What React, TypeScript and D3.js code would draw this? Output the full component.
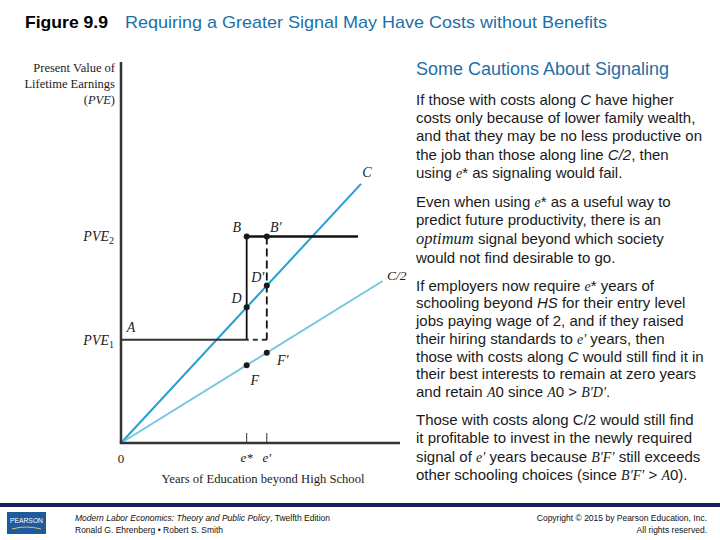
import React from 'react';
import * as d3 from 'd3';

const W = 720;
const H = 540;

// Axes domains (years beyond HS, PVE units)
const xMax = 11.1;
const yMax = 3.69;

// Education signals
const eStar = 5;
const ePrime = 5.8;
const educationTicks = [
  { key: '0', x: 0 },
  { key: 'e*', x: eStar },
  { key: "e'", x: ePrime },
];

// PVE levels
const pve1 = 1;
const pve2 = 2;
const pveLevels = [
  { sub: '1', v: pve1 },
  { sub: '2', v: pve2 },
];

// Cost lines (from origin)
const costC: [number, number][] = [[0, 0], [9.55, 2.51]];
const costHalf: [number, number][] = [[0, 0], [10.41, 1.57]];
const pve2End = 9.43;

// Text content
const titleBold = 'Figure 9.9';
const titleText = 'Requiring a Greater Signal May Have Costs without Benefits';
const subheading = 'Some Cautions About Signaling';
const para1 = [
  'If those with costs along [C] have higher',
  'costs only because of lower family wealth,',
  'and that they may be no less productive on',
  'the job than those along line [C/2], then',
  'using {e}* as signaling would fail.',
];
const para2 = [
  'Even when using {e}* as a useful way to',
  'predict future productivity, there is an',
  '{optimum} signal beyond which society',
  'would not find desirable to go.',
];
const para3 = [
  'If employers now require {e}* years of',
  'schooling beyond [HS] for their entry level',
  'jobs paying wage of 2, and if they raised',
  "their hiring standards to {e′} years, then",
  'those with costs along [C] would still find it in',
  'their best interests to remain at zero years',
  "and retain {A}0 since {A}0 > {B′D′}.",
];
const para4 = [
  'Those with costs along C/2 would still find',
  'it profitable to invest in the newly required',
  "signal of {e′} years because {B′F′} still exceeds",
  "other schooling choices (since {B′F′} > {A}0).",
];
const footerLeft1a = 'Modern Labor Economics: Theory and Public Policy';
const footerLeft1b = ', Twelfth Edition';
const footerLeft2 = 'Ronald G. Ehrenberg • Robert S. Smith';
const footerRight1 = 'Copyright © 2015 by Pearson Education, Inc.';
const footerRight2 = 'All rights reserved.';

const SANS = '"Liberation Sans", Arial, sans-serif';
const SERIF = '"Liberation Serif", "Times New Roman", serif';
const BLUE_TITLE = '#1d6fa8';
const C_COLOR = '#23a0d2';
const C2_COLOR = '#74c6de';
const AXIS = '#333';

const x = d3.scaleLinear().domain([0, xMax]).range([121, 400]);
const y = d3.scaleLinear().domain([0, yMax]).range([443, 62]);
const lineGen = d3.line<[number, number]>().x((d) => x(d[0])).y((d) => y(d[1]));
const onLine = (l: [number, number][], xv: number) => (l[1][1] / l[1][0]) * xv;

function RichLine({ text, xPos, yPos, size }: { text: string; xPos: number; yPos: number; size: number }) {
  const parts = text.split(/(\[[^\]]*\]|\{[^}]*\})/).filter((p) => p.length > 0);
  return (
    <text x={xPos} y={yPos} fontFamily={SANS} fontSize={size} fill="#1a1a1a" style={{ whiteSpace: 'pre' }}>
      {parts.map((p, i) => {
        if (p.startsWith('[')) {
          return (
            <tspan key={i} fontStyle="italic">
              {p.slice(1, -1)}
            </tspan>
          );
        }
        if (p.startsWith('{')) {
          const inner = p.slice(1, -1);
          const big = inner === 'optimum';
          return (
            <tspan key={i} fontFamily={SERIF} fontStyle="italic" fontSize={big ? size + 1.5 : size - 1}>
              {inner}
            </tspan>
          );
        }
        return <tspan key={i}>{p}</tspan>;
      })}
    </text>
  );
}

function Paragraph({ lines, y0, lh }: { lines: string[]; y0: number; lh: number }) {
  return (
    <g>
      {lines.map((l, i) => (
        <RichLine key={i} text={l} xPos={416} yPos={y0 + i * lh} size={15} />
      ))}
    </g>
  );
}

export default function App() {
  const dStar = onLine(costC, eStar);
  const dPrime = onLine(costC, ePrime);
  const fStar = onLine(costHalf, eStar);
  const fPrime = onLine(costHalf, ePrime);

  const dots: { key: string; xv: number; yv: number; dx: number; dy: number }[] = [
    { key: 'B', xv: eStar, yv: pve2, dx: -10, dy: -4 },
    { key: 'B′', xv: ePrime, yv: pve2, dx: 9, dy: -4 },
    { key: 'D', xv: eStar, yv: dStar, dx: -10, dy: -4 },
    { key: 'D′', xv: ePrime, yv: dPrime, dx: -9, dy: -4 },
    { key: 'F', xv: eStar, yv: fStar, dx: 8, dy: 20 },
    { key: 'F′', xv: ePrime, yv: fPrime, dx: 16, dy: 12 },
  ];

  const labelStyle = { fontFamily: SERIF, fontStyle: 'italic' as const, fontSize: 14, fill: '#222' };

  return (
    <svg width={W} height={H} style={{ position: 'absolute', left: 0, top: 0, background: '#fff' }}>
      <rect x={0} y={0} width={W} height={H} fill="#fff" />
      {/* Title */}
      <text x={25} y={28} fontFamily={SANS} fontWeight="bold" fontSize={17} fill="#000" textLength={83} lengthAdjust="spacingAndGlyphs">
        {titleBold}
      </text>
      <text x={125} y={28} fontFamily={SANS} fontSize={17} fill={BLUE_TITLE} textLength={482} lengthAdjust="spacingAndGlyphs">
        {titleText}
      </text>

      {/* Y-axis title */}
      <g fontFamily={SERIF} fontSize={12.5} fill="#222" textAnchor="end">
        <text x={115} y={72}>Present Value of</text>
        <text x={115} y={88}>Lifetime Earnings</text>
        <text x={115} y={104}>
          (<tspan fontStyle="italic">PVE</tspan>)
        </text>
      </g>

      {/* Cost lines */}
      <path d={lineGen(costC) || ''} stroke={C_COLOR} strokeWidth={2} fill="none" />
      <path d={lineGen(costHalf) || ''} stroke={C2_COLOR} strokeWidth={1.8} fill="none" />

      {/* PVE1 line (A) */}
      <line x1={x(0)} x2={x(eStar)} y1={y(pve1)} y2={y(pve1)} stroke={AXIS} strokeWidth={2} />
      <line x1={x(ePrime)} x2={x(eStar)} y1={y(pve1)} y2={y(pve1)} stroke={AXIS} strokeWidth={2} strokeDasharray="5,4" />
      {/* PVE2 line */}
      <line x1={x(eStar)} x2={x(pve2End)} y1={y(pve2)} y2={y(pve2)} stroke="#111" strokeWidth={2.5} />
      {/* verticals */}
      <line x1={x(eStar)} x2={x(eStar)} y1={y(pve1)} y2={y(pve2)} stroke="#111" strokeWidth={1.8} />
      <line x1={x(ePrime)} x2={x(ePrime)} y1={y(pve2)} y2={y(pve1)} stroke="#111" strokeWidth={1.8} strokeDasharray="8,4" />

      {/* Axes */}
      <line x1={x(0)} x2={x(0)} y1={y(yMax)} y2={y(0)} stroke={AXIS} strokeWidth={2.5} />
      <line x1={x(0) - 1.25} x2={x(xMax)} y1={y(0)} y2={y(0)} stroke={AXIS} strokeWidth={2.5} />
      {educationTicks
        .filter((t) => t.x > 0)
        .map((t) => (
          <line key={t.key} x1={x(t.x)} x2={x(t.x)} y1={y(0) - 10} y2={y(0)} stroke={AXIS} strokeWidth={1} />
        ))}
      <text x={x(0)} y={463} textAnchor="middle" fontFamily={SERIF} fontSize={13} fill="#222">
        0
      </text>
      <text x={x(eStar)} y={462} textAnchor="middle" {...labelStyle} fontSize={13}>
        e*
      </text>
      <text x={x(ePrime)} y={462} textAnchor="middle" {...labelStyle} fontSize={13}>
        e′
      </text>
      <text x={263} y={483} textAnchor="middle" fontFamily={SERIF} fontSize={13} fill="#222" textLength={203} lengthAdjust="spacingAndGlyphs">
        Years of Education beyond High School
      </text>

      {/* PVE labels */}
      {pveLevels.map((p) => (
        <text key={p.sub} x={114} y={y(p.v) + 5} textAnchor="end" {...labelStyle}>
          PVE<tspan fontSize={10} fontStyle="normal" dy={3}>{p.sub}</tspan>
        </text>
      ))}
      <text x={x(0) + 10} y={y(pve1) - 8} textAnchor="middle" {...labelStyle}>
        A
      </text>

      {/* Line end labels */}
      <text x={x(costC[1][0]) + 6} y={y(costC[1][1]) - 7} textAnchor="middle" {...labelStyle}>
        C
      </text>
      <text x={x(costHalf[1][0]) + 14} y={y(costHalf[1][1]) - 1} textAnchor="middle" {...labelStyle} fontSize={13.5}>
        C/2
      </text>

      {/* Dots and labels */}
      {dots.map((d) => (
        <g key={d.key}>
          <circle cx={x(d.xv)} cy={y(d.yv)} r={3} fill="#1a1a1a" />
          <text x={x(d.xv) + d.dx} y={y(d.yv) + d.dy} textAnchor="middle" {...labelStyle}>
            {d.key}
          </text>
        </g>
      ))}

      {/* Right text panel */}
      <text x={416} y={75} fontFamily={SANS} fontSize={17.5} fill={BLUE_TITLE} textLength={253} lengthAdjust="spacingAndGlyphs">
        {subheading}
      </text>
      <Paragraph lines={para1} y0={105} lh={18.2} />
      <Paragraph lines={para2} y0={206.5} lh={18.8} />
      <Paragraph lines={para3} y0={290.7} lh={17.7} />
      <Paragraph lines={para4} y0={425} lh={18.3} />

      {/* Footer */}
      <rect x={0} y={503} width={W} height={4} fill="#1b1d5e" />
      <rect x={7} y={512} width={39} height={22} fill="#1f5a9c" />
      <text x={26.5} y={523} textAnchor="middle" fontFamily={SANS} fontSize={8} fill="#fff" textLength={33} lengthAdjust="spacingAndGlyphs">
        PEARSON
      </text>
      <path d="M12,529 Q26,525 41,529" stroke="#e0c070" strokeWidth={1} fill="none" />
      <text x={75} y={521} fontFamily={SANS} fontSize={8.5} fill="#111">
        <tspan fontStyle="italic">{footerLeft1a}</tspan>
        <tspan>{footerLeft1b}</tspan>
      </text>
      <text x={75} y={533} fontFamily={SANS} fontSize={8.5} fill="#111">
        {footerLeft2}
      </text>
      <text x={707} y={521} textAnchor="end" fontFamily={SANS} fontSize={8.5} fill="#111">
        {footerRight1}
      </text>
      <text x={707} y={533} textAnchor="end" fontFamily={SANS} fontSize={8.5} fill="#111">
        {footerRight2}
      </text>
    </svg>
  );
}
